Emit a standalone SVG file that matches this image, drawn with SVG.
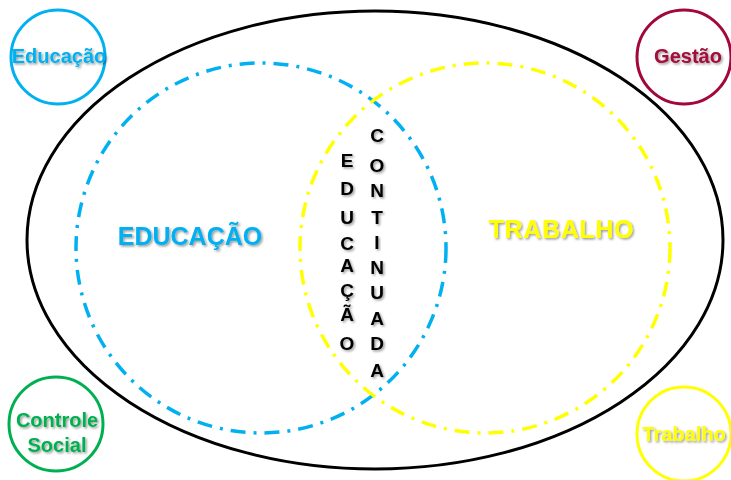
<svg xmlns="http://www.w3.org/2000/svg" width="731" height="480" viewBox="0 0 731 480">
<defs>
<filter id="sh" x="-20%" y="-20%" width="140%" height="140%">
<feDropShadow dx="1.5" dy="1.5" stdDeviation="0.9" flood-color="#000" flood-opacity="0.4"/>
</filter>
</defs>
<style>
text{font-family:"Liberation Sans",Arial,sans-serif;font-weight:bold;text-anchor:middle;filter:url(#sh)}
.dash{fill:none;stroke-width:3.5;stroke-dasharray:15 8 3 8}
.small{fill:none;stroke-width:3}
.lbl{font-size:20px}
.big{font-size:25px}
.vert{font-size:19px;fill:#000}
</style>
<rect width="731" height="480" fill="#fff"/>
<g id="outer">
<ellipse cx="375" cy="240" rx="348" ry="229" fill="none" stroke="#000" stroke-width="3"/>
</g>
<g id="educacao-set">
<circle class="dash" cx="261" cy="248" r="185" stroke="#00B0F0"/>
<text class="big" x="190" y="245" fill="#00B0F0">EDUCAÇÃO</text>
</g>
<g id="trabalho-set">
<circle class="dash" cx="485" cy="248" r="185" stroke="#FFFF00"/>
<text class="big" x="561" y="238" fill="#FFFF00" textLength="145">TRABALHO</text>
</g>
<g id="educacao-continuada">
<text class="vert" x="347" y="167">E</text>
<text class="vert" x="347" y="195">D</text>
<text class="vert" x="347" y="224">U</text>
<text class="vert" x="347" y="250">C</text>
<text class="vert" x="347" y="272">A</text>
<text class="vert" x="347" y="297">Ç</text>
<text class="vert" x="347" y="321">Ã</text>
<text class="vert" x="347" y="350">O</text>
<text class="vert" x="377" y="142">C</text>
<text class="vert" x="377" y="172">O</text>
<text class="vert" x="377" y="197">N</text>
<text class="vert" x="377" y="224">T</text>
<text class="vert" x="377" y="249">I</text>
<text class="vert" x="377" y="274">N</text>
<text class="vert" x="377" y="299">U</text>
<text class="vert" x="377" y="325">A</text>
<text class="vert" x="377" y="350">D</text>
<text class="vert" x="377" y="377">A</text>
</g>
<g id="node-educacao">
<circle class="small" cx="58" cy="57" r="47" stroke="#00B0F0"/>
<text class="lbl" x="59" y="63" fill="#00B0F0">Educação</text>
</g>
<g id="node-gestao">
<circle class="small" cx="684" cy="57" r="47" stroke="#A2083A"/>
<text class="lbl" x="688" y="63" fill="#A2083A">Gestão</text>
</g>
<g id="node-controle-social">
<circle class="small" cx="56" cy="424" r="47" stroke="#00B050"/>
<text class="lbl" x="57" y="427" fill="#00B050">Controle</text>
<text class="lbl" x="57" y="452" fill="#00B050">Social</text>
</g>
<g id="node-trabalho">
<circle class="small" cx="684" cy="434" r="47" stroke="#FFFF00"/>
<text class="lbl" x="684" y="441" fill="#FFFF00">Trabalho</text>
</g>
</svg>
